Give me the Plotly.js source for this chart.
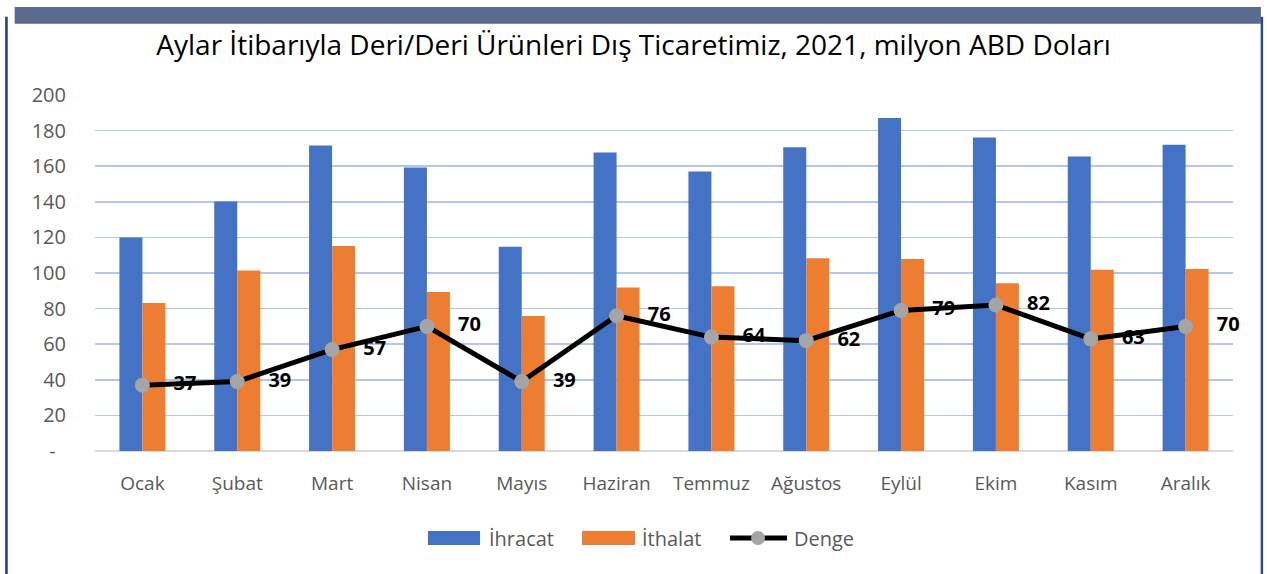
<!DOCTYPE html>
<html>
<head>
<meta charset="utf-8">
<script src="https://cdn.plot.ly/plotly-3.0.1.min.js"></script>
<style>html,body{margin:0;padding:0;background:#fff;}#chart{width:1267px;height:574px;}</style>
</head>
<body>
<div id="chart"></div>
<script>
const months = ["Ocak","Şubat","Mart","Nisan","Mayıs","Haziran","Temmuz","Ağustos","Eylül","Ekim","Kasım","Aralık"];
const ihracat = [120.0,140.2,171.6,159.2,114.7,167.7,157.0,170.6,187.1,176.1,165.4,172.1];
const ithalat = [83.1,101.4,115.1,89.3,75.8,91.9,92.6,108.3,107.8,94.3,101.8,102.2];
const denge = [37,39,57,70,39,76,64,62,79,82,63,70];
const yTickVals = [0,20,40,60,80,100,120,140,160,180,200];
const yTickText = ["-\u00a0\u00a0","20","40","60","80","100","120","140","160","180","200"];
const seriesNames = ["İhracat","İthalat","Denge"];
const seriesColors = ["#4472C4","#ED7D31","#000000"];

const font = "'Open Sans', 'Noto Sans', sans-serif";

const traces = [
  {type:"bar", name:seriesNames[0], x:months, y:ihracat, marker:{color:seriesColors[0]}, showlegend:false},
  {type:"bar", name:seriesNames[1], x:months, y:ithalat, marker:{color:seriesColors[1]}, showlegend:false},
  {type:"scatter", mode:"lines+markers+text", name:seriesNames[2], x:months, y:denge,
   line:{color:seriesColors[2], width:5},
   marker:{color:"#A5A5A5", size:15},
   text:denge.map(v=>String(v)),
   texttemplate:"    <b>%{text}</b>",
   textposition:"middle right",
   textfont:{family:font, size:20, color:"#000000"},
   cliponaxis:false, showlegend:false}
];

// custom legend (paper coords)
const ly0 = -0.264, ly1 = -0.2247, lyc = -0.2444;
const shapes = [
  {type:"rect", xref:"paper", yref:"paper", x0:-0.0706, x1:1.0245, y0:1.2, y1:1.247, fillcolor:"#5B6A8F", line:{width:0}, layer:"above"},
  {type:"line", xref:"paper", yref:"paper", x0:-0.0778, x1:-0.0778, y0:-0.35, y1:1.22, line:{color:"#1F3A8A", width:2.5}},
  {type:"line", xref:"paper", yref:"paper", x0:1.0254, x1:1.0254, y0:-0.35, y1:1.22, line:{color:"#2B4A8A", width:2.5}},
  {type:"rect", xref:"paper", yref:"paper", x0:0.2926, x1:0.3383, y0:ly0, y1:ly1, fillcolor:seriesColors[0], line:{width:0}},
  {type:"rect", xref:"paper", yref:"paper", x0:0.4279, x1:0.4745, y0:ly0, y1:ly1, fillcolor:seriesColors[1], line:{width:0}},
  {type:"line", xref:"paper", yref:"paper", x0:0.558, x1:0.6081, y0:lyc, y1:lyc, line:{color:seriesColors[2], width:5}},
  {type:"circle", xref:"paper", yref:"paper", x0:0.5765, x1:0.5888, y0:ly0, y1:ly1, fillcolor:"#A5A5A5", line:{width:0}}
];
const legendX = [0.3445, 0.4789, 0.6125];
const annotations = seriesNames.map((n,i)=>({
  xref:"paper", yref:"paper", x:legendX[i], y:lyc, xanchor:"left", yanchor:"middle",
  text:n, showarrow:false, font:{family:font, size:20, color:"#595959"}
}));

const layout = {
  width:1267, height:574,
  paper_bgcolor:"#ffffff", plot_bgcolor:"#ffffff",
  margin:{l:95, r:34, t:95, b:123},
  title:{text:"Aylar İtibarıyla Deri/Deri Ürünleri Dış Ticaretimiz, 2021, milyon ABD Doları",
         font:{family:font, size:28, color:"#000000"}, x:0.5, xanchor:"center", y:0.922, yanchor:"middle"},
  barmode:"group", bargap:0.515, bargroupgap:0,
  xaxis:{range:[-0.5,11.5], autorange:false, tickfont:{family:font, size:19, color:"#595959"}, showgrid:false, showline:false, ticks:"", zeroline:false, ticklabelstandoff:19},
  yaxis:{range:[0,200], tickvals:yTickVals, ticktext:yTickText, tickfont:{family:font, size:20, color:"#595959"},
         gridcolor:"#B4C7E7", gridwidth:1.5, zeroline:true, zerolinecolor:"#D9D9D9", zerolinewidth:2, ticks:"", ticklabelstandoff:28},
  showlegend:false,
  shapes:shapes,
  annotations:annotations
};

Plotly.newPlot("chart", traces, layout, {displayModeBar:false, staticPlot:true});
</script>
</body>
</html>
